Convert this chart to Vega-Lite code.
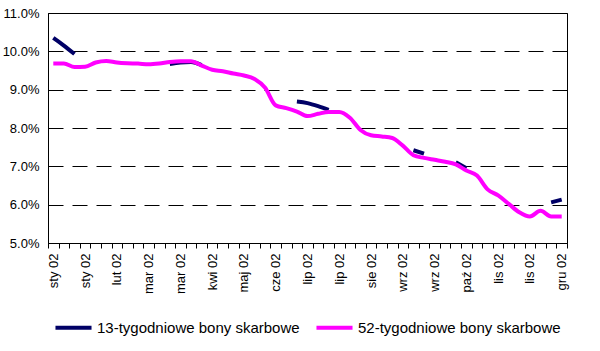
{
  "$schema": "https://vega.github.io/schema/vega-lite/v6.json",
  "width": 519,
  "height": 230,
  "autosize": {"type": "none"},
  "padding": {"left": 48, "top": 13, "right": 33, "bottom": 108},
  "background": "white",
  "config": {
    "view": {"stroke": "black", "strokeWidth": 1},
    "font": "Liberation Sans"
  },
  "data": {
    "values": [
      {"w": 0, "s": "13-tygodniowe bony skarbowe", "v": 10.35},
      {"w": 1, "s": "13-tygodniowe bony skarbowe", "v": 10.15},
      {"w": 2, "s": "13-tygodniowe bony skarbowe", "v": 9.93},
      {"w": 3, "s": "13-tygodniowe bony skarbowe", "v": null},
      {"w": 10, "s": "13-tygodniowe bony skarbowe", "v": null},
      {"w": 11, "s": "13-tygodniowe bony skarbowe", "v": 9.67},
      {"w": 12, "s": "13-tygodniowe bony skarbowe", "v": 9.71},
      {"w": 13, "s": "13-tygodniowe bony skarbowe", "v": 9.72},
      {"w": 14, "s": "13-tygodniowe bony skarbowe", "v": 9.64},
      {"w": 15, "s": "13-tygodniowe bony skarbowe", "v": null},
      {"w": 22, "s": "13-tygodniowe bony skarbowe", "v": null},
      {"w": 23, "s": "13-tygodniowe bony skarbowe", "v": 8.69},
      {"w": 24, "s": "13-tygodniowe bony skarbowe", "v": 8.65},
      {"w": 25, "s": "13-tygodniowe bony skarbowe", "v": 8.57},
      {"w": 26, "s": "13-tygodniowe bony skarbowe", "v": 8.47},
      {"w": 27, "s": "13-tygodniowe bony skarbowe", "v": null},
      {"w": 33, "s": "13-tygodniowe bony skarbowe", "v": null},
      {"w": 34, "s": "13-tygodniowe bony skarbowe", "v": 7.42},
      {"w": 35, "s": "13-tygodniowe bony skarbowe", "v": 7.33},
      {"w": 36, "s": "13-tygodniowe bony skarbowe", "v": null},
      {"w": 37, "s": "13-tygodniowe bony skarbowe", "v": null},
      {"w": 38, "s": "13-tygodniowe bony skarbowe", "v": 7.11},
      {"w": 39, "s": "13-tygodniowe bony skarbowe", "v": 6.95},
      {"w": 40, "s": "13-tygodniowe bony skarbowe", "v": null},
      {"w": 46, "s": "13-tygodniowe bony skarbowe", "v": null},
      {"w": 47, "s": "13-tygodniowe bony skarbowe", "v": 6.06},
      {"w": 48, "s": "13-tygodniowe bony skarbowe", "v": 6.13},
      {"w": 0, "s": "52-tygodniowe bony skarbowe", "v": 9.68},
      {"w": 1, "s": "52-tygodniowe bony skarbowe", "v": 9.68},
      {"w": 2, "s": "52-tygodniowe bony skarbowe", "v": 9.59},
      {"w": 3, "s": "52-tygodniowe bony skarbowe", "v": 9.6},
      {"w": 4, "s": "52-tygodniowe bony skarbowe", "v": 9.71},
      {"w": 5, "s": "52-tygodniowe bony skarbowe", "v": 9.75},
      {"w": 6, "s": "52-tygodniowe bony skarbowe", "v": 9.71},
      {"w": 7, "s": "52-tygodniowe bony skarbowe", "v": 9.69},
      {"w": 8, "s": "52-tygodniowe bony skarbowe", "v": 9.68},
      {"w": 9, "s": "52-tygodniowe bony skarbowe", "v": 9.66},
      {"w": 10, "s": "52-tygodniowe bony skarbowe", "v": 9.68},
      {"w": 11, "s": "52-tygodniowe bony skarbowe", "v": 9.72},
      {"w": 12, "s": "52-tygodniowe bony skarbowe", "v": 9.74},
      {"w": 13, "s": "52-tygodniowe bony skarbowe", "v": 9.74},
      {"w": 14, "s": "52-tygodniowe bony skarbowe", "v": 9.63},
      {"w": 15, "s": "52-tygodniowe bony skarbowe", "v": 9.52},
      {"w": 16, "s": "52-tygodniowe bony skarbowe", "v": 9.48},
      {"w": 17, "s": "52-tygodniowe bony skarbowe", "v": 9.42},
      {"w": 18, "s": "52-tygodniowe bony skarbowe", "v": 9.37},
      {"w": 19, "s": "52-tygodniowe bony skarbowe", "v": 9.28},
      {"w": 20, "s": "52-tygodniowe bony skarbowe", "v": 9.05},
      {"w": 21, "s": "52-tygodniowe bony skarbowe", "v": 8.59},
      {"w": 22, "s": "52-tygodniowe bony skarbowe", "v": 8.52},
      {"w": 23, "s": "52-tygodniowe bony skarbowe", "v": 8.43},
      {"w": 24, "s": "52-tygodniowe bony skarbowe", "v": 8.31},
      {"w": 25, "s": "52-tygodniowe bony skarbowe", "v": 8.37},
      {"w": 26, "s": "52-tygodniowe bony skarbowe", "v": 8.42},
      {"w": 27, "s": "52-tygodniowe bony skarbowe", "v": 8.42},
      {"w": 28, "s": "52-tygodniowe bony skarbowe", "v": 8.27},
      {"w": 29, "s": "52-tygodniowe bony skarbowe", "v": 7.95},
      {"w": 30, "s": "52-tygodniowe bony skarbowe", "v": 7.81},
      {"w": 31, "s": "52-tygodniowe bony skarbowe", "v": 7.78},
      {"w": 32, "s": "52-tygodniowe bony skarbowe", "v": 7.74},
      {"w": 33, "s": "52-tygodniowe bony skarbowe", "v": 7.54},
      {"w": 34, "s": "52-tygodniowe bony skarbowe", "v": 7.29},
      {"w": 35, "s": "52-tygodniowe bony skarbowe", "v": 7.22},
      {"w": 36, "s": "52-tygodniowe bony skarbowe", "v": 7.17},
      {"w": 37, "s": "52-tygodniowe bony skarbowe", "v": 7.12},
      {"w": 38, "s": "52-tygodniowe bony skarbowe", "v": 7.05},
      {"w": 39, "s": "52-tygodniowe bony skarbowe", "v": 6.89},
      {"w": 40, "s": "52-tygodniowe bony skarbowe", "v": 6.76},
      {"w": 41, "s": "52-tygodniowe bony skarbowe", "v": 6.4},
      {"w": 42, "s": "52-tygodniowe bony skarbowe", "v": 6.24},
      {"w": 43, "s": "52-tygodniowe bony skarbowe", "v": 6.02},
      {"w": 44, "s": "52-tygodniowe bony skarbowe", "v": 5.8},
      {"w": 45, "s": "52-tygodniowe bony skarbowe", "v": 5.69},
      {"w": 46, "s": "52-tygodniowe bony skarbowe", "v": 5.84},
      {"w": 47, "s": "52-tygodniowe bony skarbowe", "v": 5.69},
      {"w": 48, "s": "52-tygodniowe bony skarbowe", "v": 5.69}
    ]
  },
  "mark": {
    "type": "line",
    "strokeWidth": 4,
    "interpolate": "monotone",
    "invalid": "break-paths-filter-domains"
  },
  "encoding": {
    "x": {
      "field": "w",
      "type": "ordinal",
      "scale": {"type": "band", "paddingInner": 0, "paddingOuter": 0},
      "axis": {
        "title": null,
        "tickBand": "extent",
        "tickSize": 5,
        "tickColor": "black",
        "domainColor": "black",
        "labelAngle": -90,
        "labelPadding": 5,
        "labelFontSize": 13,
        "labelColor": "black",
        "labelFont": "Liberation Sans",
        "labelExpr": "datum.value % 3 == 0 ? ['sty 02','sty 02','lut 02','mar 02','mar 02','kwi 02','maj 02','cze 02','lip 02','lip 02','sie 02','wrz 02','wrz 02','paź 02','lis 02','lis 02','gru 02'][datum.value / 3] : ''"
      }
    },
    "y": {
      "field": "v",
      "type": "quantitative",
      "scale": {"domain": [5, 11], "nice": false, "zero": false},
      "axis": {
        "title": null,
        "values": [5, 6, 7, 8, 9, 10, 11],
        "labelExpr": "format(datum.value, '.1f') + '%'",
        "ticks": false,
        "labelPadding": 9,
        "labelFontSize": 13,
        "labelColor": "black",
        "labelFont": "Liberation Sans",
        "domainColor": "black",
        "grid": true,
        "gridColor": "black",
        "gridOpacity": 1,
        "gridDash": [15, 9],
        "gridWidth": 1
      }
    },
    "color": {
      "field": "s",
      "type": "nominal",
      "scale": {
        "domain": ["13-tygodniowe bony skarbowe", "52-tygodniowe bony skarbowe"],
        "range": ["#000066", "#FF00FF"]
      },
      "legend": {
        "title": null,
        "orient": "none",
        "legendX": 5,
        "legendY": 294,
        "direction": "horizontal",
        "symbolType": "stroke",
        "symbolSize": 1300,
        "symbolStrokeWidth": 4,
        "labelFontSize": 15,
        "labelLimit": 400,
        "labelFont": "Liberation Sans",
        "labelColor": "black",
        "labelOffset": 3,
        "columnPadding": 8
      }
    }
  }
}
